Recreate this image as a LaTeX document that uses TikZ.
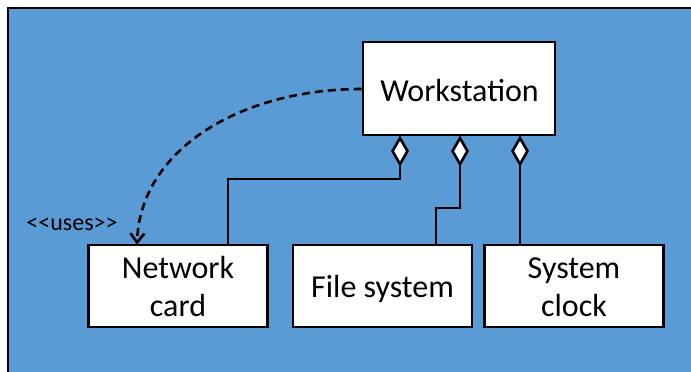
\documentclass[tikz,border=0pt]{standalone}
\usepackage{fontspec}
\setmainfont{Carlito}
\usetikzlibrary{arrows.meta,shapes.geometric}
\definecolor{panelblue}{HTML}{5B9BD5}
\tikzset{
  classbox/.style={draw=black, fill=white, line width=2.6pt, inner sep=0pt},
  label/.style={font=\fontsize{32}{38}\selectfont, inner sep=0pt, align=center},
  agg/.style={diamond, draw=black, fill=white, line width=2.6pt, inner sep=0pt,
    minimum width=16pt, minimum height=27pt, anchor=north},
  link/.style={line width=2.8pt, line join=miter},
  usesarrow/.style={line width=2.6pt, dash pattern=on 8pt off 5pt,
    -{Straight Barb[length=9pt,width=14pt,line width=2.6pt]}},
}
\begin{document}
\begin{tikzpicture}[x=1pt,y=-1pt]
  \useasboundingbox (0,0) rectangle (691,372);
  % panel
  \fill[white] (0,0) rectangle (691,372);
  \fill[panelblue] (8,8) rectangle (691,372);
  \draw[line width=2.6pt] (8,372) -- (8,8) -- (691,8);

  % classes
  \node[classbox, minimum width=192pt, minimum height=93pt] (ws) at (459,88.5) {};
  \node[label] (wst) at (459.5,90.5) {Workstation};
  \node[classbox, minimum width=179pt, minimum height=82pt] (nc) at (178,286) {};
  \node[label] (nct) at (178,287) {Network\\card};
  \node[classbox, minimum width=179pt, minimum height=82pt] (fs) at (382.5,286) {};
  \node[label] (fst) at (382.5,289) {File system};
  \node[classbox, minimum width=179pt, minimum height=82pt] (sc) at (574,286) {};
  \node[label] (sct) at (574,287) {System\\clock};

  % aggregation diamonds under the workstation
  \node[agg] (d1) at (ws.south -| 400,0) {};
  \node[agg] (d2) at (ws.south -| 460,0) {};
  \node[agg] (d3) at (ws.south -| 520,0) {};

  % part-of links
  \coordinate (b1) at (228,179);
  \coordinate (b2) at (436,208);
  \draw[link] (d1.south) |- (b1) -- (b1 |- nc.north);
  \draw[link] (d2.south) |- (b2) -- (b2 |- fs.north);
  \draw[link] (d3.south) -- (d3.south |- sc.north);

  % dependency
  \coordinate (tip) at (137,244.5);
  \draw[usesarrow] (ws.west |- 0,89) .. controls (240,89) and (140,150) .. (tip);
  \node[font=\fontsize{24}{28}\selectfont, inner sep=0pt] (uses) at (72,224) {{<}{<}uses{>}{>}};
\end{tikzpicture}
\end{document}
